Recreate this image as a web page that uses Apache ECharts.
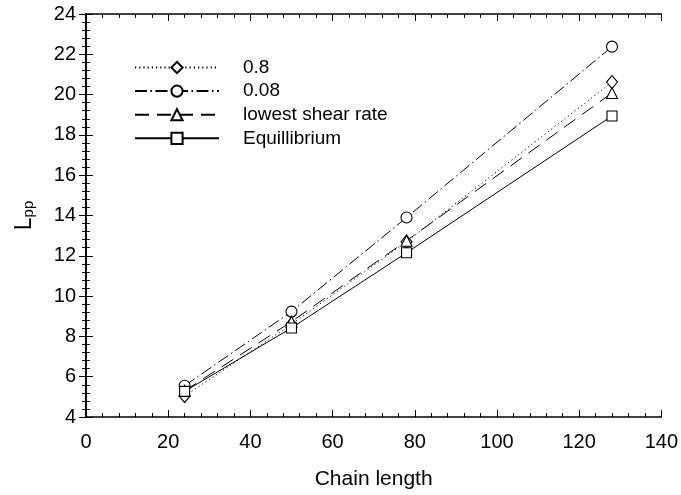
<!DOCTYPE html>
<html>
<head>
<meta charset="utf-8">
<script src="https://cdn.jsdelivr.net/npm/echarts@6/dist/echarts.min.js"></script>
<style>html,body{margin:0;padding:0;background:#fff;}#c{width:681px;height:495px;}</style>
</head>
<body>
<div id="c"></div>
<script>
const chainLength = [24, 50, 78, 128];
const s08 = [5.04, 8.6, 12.7, 20.62];
const s008 = [5.55, 9.23, 13.9, 22.38];
const sLowest = [5.3, 8.73, 12.75, 20.08];
const sEquil = [5.27, 8.42, 12.15, 18.94];
const seriesNames = ['0.8', '0.08', 'lowest shear rate', 'Equillibrium'];
const xTicks = {min: 0, max: 140, step: 20};
const yTicks = {min: 4, max: 24, step: 2};

const FONT = "'Liberation Sans', Arial, Helvetica, sans-serif";
const chart = echarts.init(document.getElementById('c'), null, {renderer: 'canvas'});
function pairs(v) { return chainLength.map((x, i) => [x, v[i]]); }
function mk(name, data, symbol, dash, size) {
  return {
    name: name, type: 'line', data: pairs(data), symbol: symbol, symbolSize: size,
    showAllSymbol: true,
    lineStyle: {color: '#000', width: 1, type: dash},
    itemStyle: {color: '#fff', borderColor: '#000', borderWidth: 1.1},
    emphasis: {disabled: true}, animation: false, z: 3
  };
}
const tickStyle = {color: '#000', width: 1};
function axis(extra) {
  return Object.assign({
    axisLine: {show: true, lineStyle: {color: '#000', width: 1.6}},
    axisTick: {show: true, inside: true, length: 7, lineStyle: tickStyle},
    splitLine: {show: false}
  }, extra);
}
chart.setOption({
  animation: false,
  backgroundColor: '#fff',
  grid: {left: 86, right: 18, top: 14, bottom: 78, containLabel: false},
  legend: {
    show: true, left: 129, top: 53, orient: 'vertical', itemWidth: 84, itemHeight: 14, itemGap: 4.6,
    textStyle: {fontFamily: FONT, fontSize: 19, color: '#000', padding: [0, 0, 0, 19]},
    data: seriesNames, selectedMode: false
  },
  xAxis: [
    axis({
      type: 'value', min: xTicks.min, max: xTicks.max, interval: xTicks.step, position: 'bottom',
      minorTick: {show: true, splitNumber: 5, length: 4, lineStyle: tickStyle},
      axisLabel: {fontFamily: FONT, fontSize: 20, color: '#000', margin: 15},
      name: 'Chain length', nameLocation: 'middle', nameGap: 52,
      nameTextStyle: {fontFamily: FONT, fontSize: 21, color: '#000'}
    }),
    axis({
      type: 'value', min: xTicks.min, max: xTicks.max, interval: xTicks.step, position: 'top',
      minorTick: {show: true, splitNumber: 5, length: 4, lineStyle: tickStyle},
      axisLabel: {show: false}
    })
  ],
  yAxis: [
    axis({
      type: 'value', min: yTicks.min, max: yTicks.max, interval: yTicks.step, position: 'left',
      minorTick: {show: true, splitNumber: 5, length: 4, lineStyle: tickStyle},
      axisLabel: {fontFamily: FONT, fontSize: 20, color: '#000', margin: 10},
      name: '{a|L}{b|pp}', nameLocation: 'middle', nameGap: 50, nameRotate: 90,
      nameTextStyle: {
        fontFamily: 'Arial', fontSize: 23, color: '#000',
        rich: {
          a: {fontFamily: 'Arial', fontSize: 23, color: '#000', lineHeight: 26, verticalAlign: 'bottom'},
          b: {fontFamily: 'Arial', fontSize: 15, color: '#000', lineHeight: 26, verticalAlign: 'bottom', padding: [9, 0, 0, 0]}
        }
      }
    }),
    axis({
      type: 'value', min: yTicks.min, max: yTicks.max, interval: yTicks.step, position: 'right',
      minorTick: {show: true, splitNumber: 5, length: 4, lineStyle: tickStyle},
      axisLabel: {show: false}
    })
  ],
  series: [
    mk(seriesNames[0], s08, 'diamond', [1.2, 3], [11, 13]),
    mk(seriesNames[1], s008, 'circle', [12, 3.5, 1.5, 3.5], 11),
    mk(seriesNames[2], sLowest, 'triangle', [14, 8], 11),
    mk(seriesNames[3], sEquil, 'rect', 'solid', 10)
  ]
});
</script>
</body>
</html>
